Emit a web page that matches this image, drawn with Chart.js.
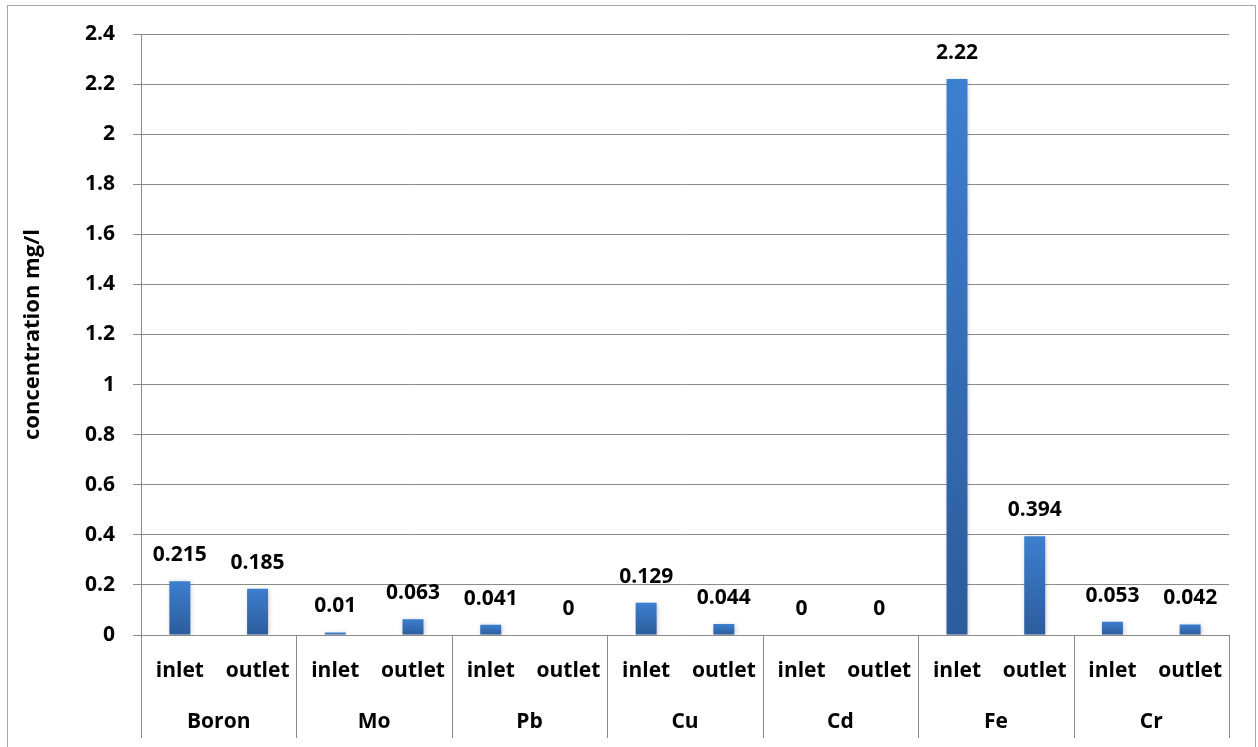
<!DOCTYPE html>
<html>
<head>
<meta charset="utf-8">
<script src="https://cdn.jsdelivr.net/npm/chart.js@4/dist/chart.umd.min.js"></script>
<style>
  html, body { margin: 0; padding: 0; background: #fff; }
  #wrap { position: relative; width: 1258px; height: 747px; }
  #frame { position: absolute; left: 7px; top: 5px; width: 1249px; height: 760px;
           border: 1px solid #a6a6a6; box-sizing: border-box; }
  canvas { position: absolute; left: 0; top: 0; }
</style>
</head>
<body>
<div id="wrap">
  <div id="frame"></div>
  <canvas id="c" width="1258" height="747"></canvas>
</div>
<script>
// Sampling points and metals
const points = ['inlet', 'outlet'];
const metals = ['Boron', 'Mo', 'Pb', 'Cu', 'Cd', 'Fe', 'Cr'];
// Measured concentrations (mg/l), inlet then outlet for each metal
const concentrations = [0.215, 0.185, 0.01, 0.063, 0.041, 0, 0.129, 0.044, 0, 0, 2.22, 0.394, 0.053, 0.042];
const valueLabels = ['0.215', '0.185', '0.01', '0.063', '0.041', '0', '0.129', '0.044', '0', '0', '2.22', '0.394', '0.053', '0.042'];
const yTickLabels = ['0', '0.2', '0.4', '0.6', '0.8', '1', '1.2', '1.4', '1.6', '1.8', '2', '2.2', '2.4'];

const categories = [];
metals.forEach(() => points.forEach(p => categories.push(p)));

const FONT = '"Open Sans", Lato, sans-serif';
const FSIZE = 21;
const GRID = '#8a8a8a';

// Vertical gradient per bar, lighter at the top
function barFill(ctx) {
  const chart = ctx.chart;
  const ys = chart.scales.y;
  if (!ys || ctx.raw === undefined) return '#3a78c6';
  const top = ys.getPixelForValue(ctx.raw);
  const base = ys.getPixelForValue(0);
  if (!isFinite(top) || !isFinite(base) || base - top < 1) return '#3a78c6';
  const g = chart.ctx.createLinearGradient(0, top, 0, base);
  g.addColorStop(0, '#3d7fcf');
  g.addColorStop(1, '#2c5c9b');
  return g;
}

// Soft shadow under the bars
const barShadow = {
  id: 'barShadow',
  beforeDatasetsDraw(chart) {
    const c = chart.ctx;
    c.save();
    c.shadowColor = 'rgba(0,0,0,0.22)';
    c.shadowBlur = 5;
    c.shadowOffsetX = 1;
    c.shadowOffsetY = 1;
  },
  afterDatasetsDraw(chart) {
    chart.ctx.restore();
  }
};

// Value labels above each bar
const valueTags = {
  id: 'valueTags',
  afterDatasetsDraw(chart) {
    const c = chart.ctx;
    const meta = chart.getDatasetMeta(0);
    c.save();
    c.font = 'bold ' + FSIZE + 'px ' + FONT;
    c.fillStyle = '#000';
    c.textAlign = 'center';
    c.textBaseline = 'middle';
    meta.data.forEach((bar, i) => {
      c.fillText(valueLabels[i], bar.x, bar.y - 26);
    });
    c.restore();
  }
};

// Group dividers and metal names under the inlet/outlet row
const groupAxis = {
  id: 'groupAxis',
  afterDraw(chart) {
    const c = chart.ctx;
    const xs = chart.scales.x;
    const top = chart.chartArea.bottom;
    const half = (xs.getPixelForValue(1) - xs.getPixelForValue(0)) / 2;
    c.save();
    c.strokeStyle = GRID;
    c.lineWidth = 1;
    for (let g = 0; g <= metals.length; g++) {
      const px = g < metals.length
        ? xs.getPixelForValue(g * 2) - half
        : xs.getPixelForValue(g * 2 - 1) + half;
      const x = Math.round(px) + 0.5;
      c.beginPath();
      c.moveTo(x, top);
      c.lineTo(x, top + 103);
      c.stroke();
    }
    c.font = 'bold ' + FSIZE + 'px ' + FONT;
    c.fillStyle = '#000';
    c.textAlign = 'center';
    c.textBaseline = 'middle';
    metals.forEach((m, g) => {
      const cx = (xs.getPixelForValue(g * 2) + xs.getPixelForValue(g * 2 + 1)) / 2;
      c.fillText(m, cx, top + 87);
    });
    c.restore();
  }
};

new Chart(document.getElementById('c'), {
  type: 'bar',
  data: {
    labels: categories,
    datasets: [{
      data: concentrations,
      backgroundColor: barFill,
      borderWidth: 0,
      barPercentage: 0.54,
      categoryPercentage: 0.5
    }]
  },
  options: {
    responsive: false,
    animation: false,
    events: [],
    layout: { padding: { left: 20, right: 29, top: 34, bottom: 0 } },
    plugins: { legend: { display: false }, tooltip: { enabled: false } },
    scales: {
      x: {
        grid: { display: false, drawTicks: false },
        border: { display: true, color: GRID, width: 1 },
        ticks: {
          color: '#000',
          font: { family: FONT, size: FSIZE, weight: 'bold' },
          padding: 23,
          maxRotation: 0,
          autoSkip: false
        },
        afterFit(scale) { scale.height = 112; }
      },
      y: {
        min: 0,
        max: 2.4,
        ticks: {
          stepSize: 0.2,
          color: '#000',
          font: { family: FONT, size: FSIZE, weight: 'bold' },
          padding: 18,
          callback: (v) => yTickLabels[Math.round(v / 0.2)]
        },
        grid: { color: GRID, lineWidth: 1, tickLength: 8 },
        border: { color: GRID, width: 1 },
        title: {
          display: true,
          text: 'concentration mg/l',
          color: '#000',
          font: { family: FONT, size: 22, weight: 'bold' },
          padding: { top: 0, bottom: 0 }
        },
        afterFit(scale) { scale.width = 141 - 20; }
      }
    }
  },
  plugins: [barShadow, valueTags, groupAxis]
});
</script>
</body>
</html>
